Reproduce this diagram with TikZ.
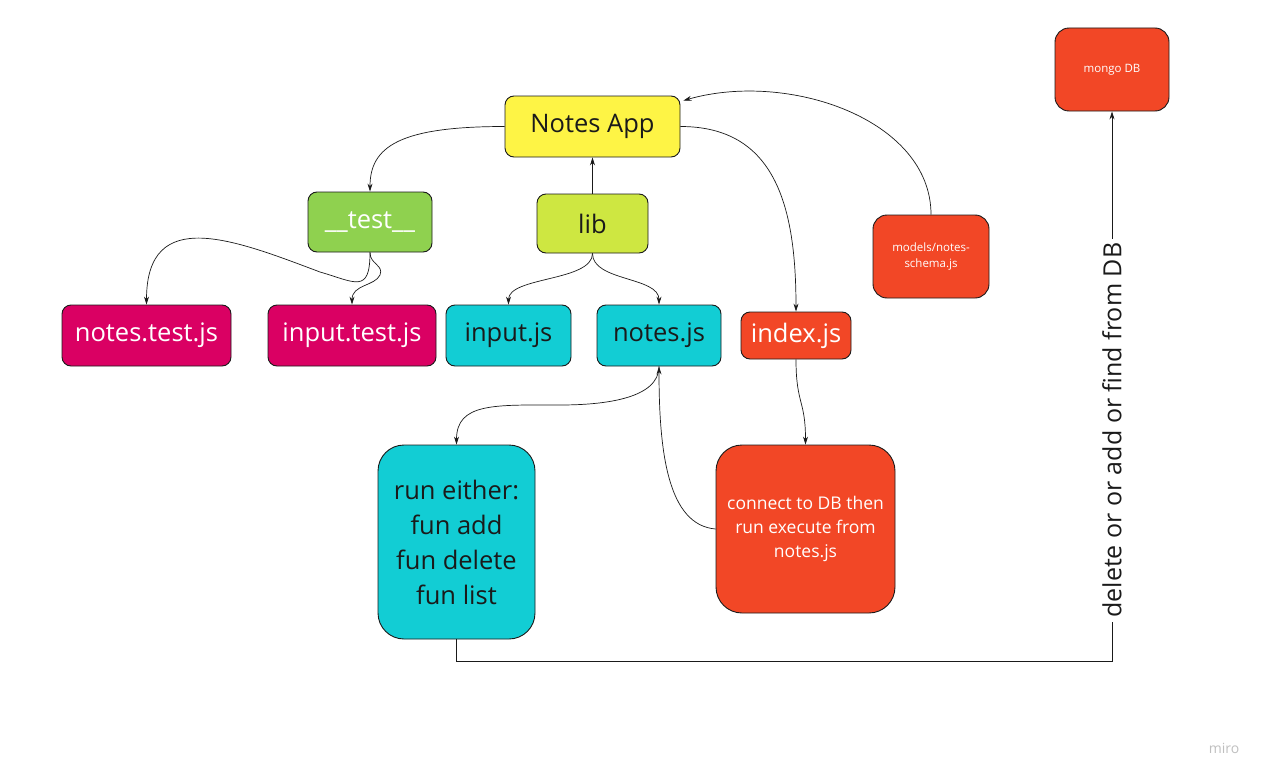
\documentclass[tikz,border=0pt]{standalone}
\usepackage{fontspec}
\setmainfont{Open Sans}
\usetikzlibrary{arrows.meta}
\definecolor{appyellow}{HTML}{FEF445}
\definecolor{testgreen}{HTML}{8FD14F}
\definecolor{liblime}{HTML}{CEE741}
\definecolor{jsmagenta}{HTML}{DA0063}
\definecolor{jscyan}{HTML}{12CDD4}
\definecolor{dbred}{HTML}{F24726}
\definecolor{inkdark}{HTML}{1A1A1A}
\tikzset{
  box/.style={draw=inkdark, line width=0.9pt, rounded corners=9pt, inner sep=0pt,
    align=center, font=\fontsize{25.5}{35}\selectfont},
  bigbox/.style={box, rounded corners=26pt},
  smallbox/.style={box, font=\fontsize{11.5}{16}\selectfont},
  lightfill/.style={fill=#1, text=inkdark},
  darkfill/.style={fill=#1, text=white},
  link/.style={draw=inkdark, line width=0.7pt, -{Stealth[length=8pt,width=5pt]}}
}

\begin{document}
\begin{tikzpicture}[x=1pt,y=-1pt]
  \useasboundingbox (0,0) rectangle (1274,784);
  % boxes
  \node[box, lightfill=appyellow, minimum width=175pt, minimum height=61pt] (app) at (592.5,126.5) {Notes App};
  \node[box, darkfill=testgreen, minimum width=124pt, minimum height=60pt] (test) at (370,222) {\_\_test\_\_};
  \node[box, lightfill=liblime, minimum width=111pt, minimum height=59pt] (lib) at (592.5,223.5) {lib};
  \node[box, darkfill=jsmagenta, minimum width=169pt, minimum height=61pt] (notestest) at (146.5,335.5) {notes.test.js};
  \node[box, darkfill=jsmagenta, minimum width=168pt, minimum height=61pt] (inputtest) at (352,335.5) {input.test.js};
  \node[box, lightfill=jscyan, minimum width=125pt, minimum height=61pt] (input) at (508.5,335.5) {input.js};
  \node[box, lightfill=jscyan, minimum width=124pt, minimum height=61pt] (notes) at (659,335.5) {notes.js};
  \node[box, darkfill=dbred, minimum width=110pt, minimum height=47pt] (index) at (796,335.5) {index.js};
  \node[smallbox, darkfill=dbred, rounded corners=14pt, minimum width=116pt, minimum height=83pt] (models) at (931,256.5) {models/notes-\\schema.js};
  \node[smallbox, darkfill=dbred, rounded corners=14pt, minimum width=114pt, minimum height=83pt] (mongo) at (1112,69.5) {mongo DB};
  \node[bigbox, lightfill=jscyan, minimum width=157pt, minimum height=194pt] (run) at (456.5,542) {run either:\\fun add\\fun delete\\fun list};
  \node[bigbox, darkfill=dbred, font=\fontsize{17.5}{24}\selectfont, minimum width=179pt, minimum height=168pt] (connect) at (805.5,529) {connect to DB then\\run execute from\\notes.js};

  % connectors
  \draw[link] (app.west) .. controls +(-105,0) and +(0,-45) .. (test.north);
  \draw[link] (lib.north) -- (app.south);
  \draw[link] (app.east) .. controls +(95,0) and +(0,-105) .. (index.north);
  \draw[link] (models.north) .. controls +(0,-95) and +(105,-30) .. ([xshift=3pt,yshift=-5pt]app.north east);
  \draw[link] (lib.south) .. controls +(0,28) and +(0,-28) .. (input.north);
  \draw[link] (lib.south) .. controls +(0,28) and +(0,-28) .. (notes.north);
  \draw[link] (test.south) .. controls +(0,42) and +(35,10) .. (320,272) .. controls +(-85,-32) and +(0,-100) .. (notestest.north);
  \draw[link] (test.south) .. controls +(0,12) and +(4,-10) .. (380,275) .. controls +(-5,11) and +(0,-20) .. (inputtest.north);
  \draw[link] (notes.south) .. controls +(0,32) and +(45,0) .. (560,405) .. controls +(-65,0) and +(0,-42) .. (run.north);
  \draw[link] (connect.west) .. controls +(-48,-4) and +(0,85) .. (notes.south);
  \draw[link] (index.south) .. controls +(0,45) and +(0,-45) .. (connect.north);
  \coordinate (turn) at (1112,661);
  \draw[link] (run.south) |- (turn) -- node[pos=0.42, rotate=90, fill=white, inner sep=4pt, font=\fontsize{25}{30}\selectfont, text=inkdark] {delete or or add or find from DB} (mongo.south);

  \node[text=black!25, font=\fontsize{14}{16}\selectfont] (miro) at (1224,748) {miro};
\end{tikzpicture}
\end{document}
